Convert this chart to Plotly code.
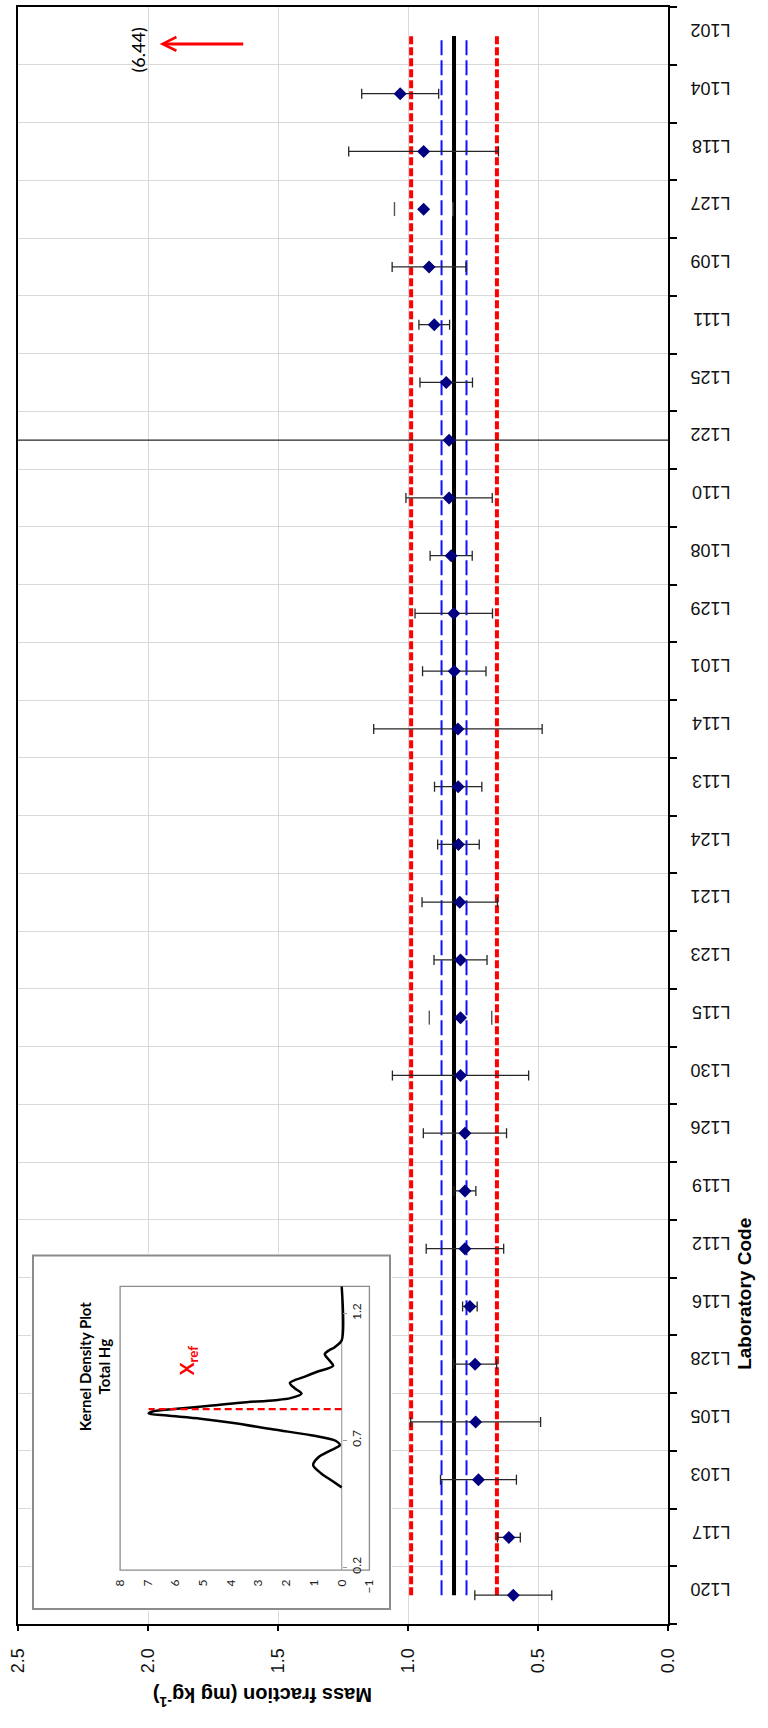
import plotly.graph_objects as go

# ---------------- data ----------------
labs = ["L120", "L117", "L103", "L105", "L128", "L116", "L112", "L119", "L126", "L130",
        "L115", "L123", "L121", "L124", "L113", "L114", "L101", "L129", "L108", "L110",
        "L122", "L125", "L111", "L109", "L127", "L118", "L104", "L102"]
values = [0.595, 0.612, 0.729, 0.740, 0.742, 0.762, 0.781, 0.781, 0.781, 0.798,
          0.798, 0.798, 0.801, 0.806, 0.807, 0.808, 0.822, 0.824, 0.834, 0.842,
          0.842, 0.853, 0.899, 0.919, 0.940, 0.940, 1.030, 6.44]
uncert = [0.148, 0.044, 0.146, 0.250, 0.083, 0.028, 0.149, 0.042, 0.160, 0.262,
          0.120, 0.102, 0.145, 0.080, 0.091, 0.324, 0.122, 0.149, 0.081, 0.166,
          2.000, 0.101, 0.059, 0.142, 0.112, 0.288, 0.148, 0.0]
bar_line_shown = [True] * len(labs)
bar_line_shown[labs.index("L115")] = False
bar_line_shown[labs.index("L127")] = False

XREF = 0.823       # assigned value
U_XREF = 0.048     # blue dashed band
SIGMA_P = 0.165    # red dashed band
OFFSCALE_LAB = "L102"
OFFSCALE_TEXT = "(6.44)"

# kernel density
kde_value = [0.514, 0.540, 0.570, 0.602, 0.632, 0.660, 0.680, 0.698, 0.720, 0.742,
             0.768, 0.785, 0.797, 0.805, 0.814, 0.823, 0.835, 0.848, 0.858, 0.866,
             0.884, 0.905, 0.926, 0.950, 0.969, 0.993, 1.015, 1.039, 1.055, 1.067,
             1.094, 1.306]
kde_density = [0.00, 0.35, 0.75, 1.03, 0.85, 0.40, 0.07, 0.22, 1.10, 2.45,
               3.90, 5.10, 6.30, 6.97, 6.80, 6.05, 4.85, 3.65, 2.40, 1.85,
               1.45, 1.70, 1.87, 1.35, 0.91, 0.31, 0.45, 0.61, 0.45, 0.25,
               0.00, 0.00]
kde_d_ticks = list(range(-1, 9))
kde_v_ticks = [0.2, 0.7, 1.2]

# ---------------- layout geometry ----------------
W, H = 768, 1728
PL, PR, PT, PB = 18, 668, 5, 1624          # main plot area (px)


def px_x(px):
    return (px - PL) / (PR - PL)


def py_y(py):
    return (PB - py) / (PB - PT)


# inset mapping
ZERO_PX = 341.7
PX_PER_D = 27.7
V02_PY = 1567
PY_PER_V = 254


def d_at(px):
    return (ZERO_PX - px) / PX_PER_D


def v_at(py):
    return 0.2 + (V02_PY - py) / PY_PER_V


IN_X0, IN_X1, IN_Y0, IN_Y1 = 31, 392, 1253, 1611     # inset subplot domain px
INNER = dict(x0=8.0, x1=-1.0, y0=v_at(1570), y1=v_at(1286))

FONT = "Liberation Sans, Arial, sans-serif"
IFONT = "Lato, Liberation Sans, sans-serif"

fig = go.Figure()

ends = [labs[0], labs[-1]]
# red dashed limits
fig.add_trace(go.Scatter(
    x=[XREF - SIGMA_P, XREF - SIGMA_P, None, XREF + SIGMA_P, XREF + SIGMA_P],
    y=ends + [None] + ends, mode="lines",
    line=dict(color="#ff0000", width=4, dash="8px,3px"), hoverinfo="skip", showlegend=False))
# blue dashed
fig.add_trace(go.Scatter(
    x=[XREF - U_XREF, XREF - U_XREF, None, XREF + U_XREF, XREF + U_XREF],
    y=ends + [None] + ends, mode="lines",
    line=dict(color="#1010ff", width=2, dash="15px,5px"), hoverinfo="skip", showlegend=False))
# black assigned value
fig.add_trace(go.Scatter(
    x=[XREF, XREF], y=ends, mode="lines",
    line=dict(color="#000000", width=4), hoverinfo="skip", showlegend=False))

# lab results with error bars
err = [u if s else None for u, s in zip(uncert, bar_line_shown)]
fig.add_trace(go.Scatter(
    x=values, y=labs, mode="markers",
    marker=dict(symbol="diamond", size=10, color="#000080"),
    error_x=dict(type="data", array=err, symmetric=True, color="#262626", thickness=1.3, width=5),
    showlegend=False))

# caps-only error bars
cx, cy = [], []
for lab, v, u, s in zip(labs, values, uncert, bar_line_shown):
    if not s:
        cx += [v - u, v + u]
        cy += [lab, lab]
fig.add_trace(go.Scatter(
    x=cx, y=cy, mode="markers",
    marker=dict(symbol="line-ns", size=10, line=dict(color="#555555", width=1.4)),
    hoverinfo="skip", showlegend=False))

# ---------------- inset ----------------
fig.add_trace(go.Scatter(
    x=kde_density, y=kde_value, mode="lines", xaxis="x2", yaxis="y2",
    line=dict(color="#000000", width=2.5, shape="spline", smoothing=0.8),
    hoverinfo="skip", showlegend=False))
fig.add_trace(go.Scatter(
    x=[0, max(kde_density)], y=[XREF, XREF], mode="lines", xaxis="x2", yaxis="y2",
    line=dict(color="#ff0000", width=2.2, dash="7px,4px"),
    hoverinfo="skip", showlegend=False))

shapes = [
    dict(type="rect", xref="x2", yref="y2", layer="below",
         x0=d_at(33), x1=d_at(390), y0=v_at(1609), y1=v_at(1255),
         fillcolor="white", line=dict(color="#8c8c8c", width=2)),
    dict(type="rect", xref="x2", yref="y2", layer="below",
         x0=INNER["x0"], x1=INNER["x1"], y0=INNER["y0"], y1=INNER["y1"],
         fillcolor="rgba(0,0,0,0)", line=dict(color="#8c8c8c", width=1.3)),
    dict(type="line", xref="x2", yref="y2", layer="below",
         x0=0, x1=0, y0=INNER["y0"], y1=INNER["y1"],
         line=dict(color="#a0a0a0", width=1.2)),
]

annotations = [
    dict(text="<b>Mass fraction (mg kg<sup>-1</sup>)</b>", xref="paper", yref="paper",
         x=px_x(263), y=py_y(1712), textangle=180, showarrow=False,
         font=dict(family=FONT, size=20, color="#000")),
    dict(text="<b>Laboratory Code</b>", xref="paper", yref="paper",
         x=px_x(757), y=py_y(1372), textangle=-90, showarrow=False,
         font=dict(family=FONT, size=19, color="#000")),
    dict(text="<b>Kernel Density Plot<br>Total Hg</b>", xref="paper", yref="paper",
         x=px_x(74), y=py_y(1433), textangle=-90, showarrow=False,
         font=dict(family=IFONT, size=15, color="#000")),
    dict(text="<b>X<sub>ref</sub></b>", xref="paper", yref="paper",
         x=px_x(173), y=py_y(1377), textangle=-90, showarrow=False,
         font=dict(family=IFONT, size=19, color="#ff0000")),
    dict(text=OFFSCALE_TEXT, xref="x", yref="y", x=2.04, y=OFFSCALE_LAB, yshift=-14,
         textangle=-90, showarrow=False, font=dict(family=IFONT, size=18, color="#000")),
    dict(text="", xref="x", yref="y", x=1.955, y=OFFSCALE_LAB, yshift=-8,
         showarrow=True, ax=85, ay=0, arrowhead=5, arrowsize=0.9, arrowwidth=3,
         arrowcolor="#ff0000"),
]

fig.update_layout(
    width=W, height=H,
    margin=dict(l=PL, r=W - PR, t=PT, b=H - PB),
    paper_bgcolor="white", plot_bgcolor="white",
    font=dict(family=FONT, size=18, color="#000"),
    shapes=shapes, annotations=annotations,
    xaxis=dict(range=[2.5, 0.0], tick0=0, dtick=0.5, tickformat=".1f", tickangle=-90,
               showgrid=True, gridcolor="#d9d9d9", gridwidth=1, zeroline=False,
               showline=True, linecolor="#000", linewidth=2, mirror=True,
               ticks="outside", ticklen=5, tickcolor="#000", tickwidth=1.5,
               ticklabelstandoff=10, tickfont=dict(family=FONT, size=18, color="#111")),
    yaxis=dict(type="category", categoryorder="array", categoryarray=labs,
               range=[-0.5, len(labs) - 0.5], side="right", tickangle=180,
               tickson="boundaries", ticks="outside", ticklen=7, tickcolor="#000", tickwidth=1.5,
               ticklabelstandoff=57,
               showgrid=True, gridcolor="#d9d9d9", gridwidth=1, zeroline=False,
               showline=True, linecolor="#000", linewidth=2, mirror=True,
               tickfont=dict(family=FONT, size=18, color="#111")),
    xaxis2=dict(domain=[px_x(IN_X0), px_x(IN_X1)], range=[d_at(IN_X0), d_at(IN_X1)],
                anchor="free", position=py_y(1570), tickvals=kde_d_ticks, tickangle=-90,
                showgrid=False, zeroline=False, showline=False, ticks="",
                ticklabelstandoff=6, tickfont=dict(family=IFONT, size=12, color="#222")),
    yaxis2=dict(domain=[py_y(IN_Y1), py_y(IN_Y0)], range=[v_at(IN_Y1), v_at(IN_Y0)],
                anchor="free", position=px_x(ZERO_PX), side="right", tickvals=kde_v_ticks,
                tickangle=-90, showgrid=False, zeroline=False, showline=False,
                ticks="outside", ticklen=4, tickcolor="#999",
                tickfont=dict(family=IFONT, size=12, color="#222")),
)

fig.write_html("out.html")
